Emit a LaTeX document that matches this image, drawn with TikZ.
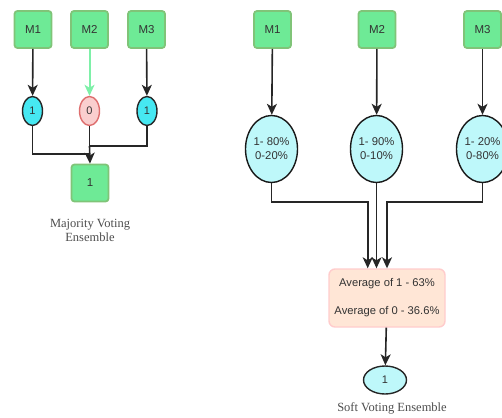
\documentclass[tikz,border=0pt]{standalone}
\usepackage{fontspec}
\setmainfont{Liberation Sans}
\newfontfamily\capfont{Liberation Serif}
\usetikzlibrary{arrows.meta,shapes.geometric}

\definecolor{boxgreen}{RGB}{110,234,150}
\definecolor{boxgreenline}{RGB}{128,196,120}
\definecolor{votecyan}{RGB}{70,232,242}
\definecolor{probcyan}{RGB}{190,248,250}
\definecolor{zeropink}{RGB}{250,206,206}
\definecolor{zeroline}{RGB}{222,110,110}
\definecolor{avgfill}{RGB}{255,230,214}
\definecolor{avgline}{RGB}{255,204,204}
\definecolor{arrowgreen}{RGB}{126,240,168}
\definecolor{txtgrey}{RGB}{51,51,51}

\tikzset{
  model/.style={draw=boxgreenline,fill=boxgreen,line width=1.8pt,rounded corners=3pt,
    minimum width=37pt,minimum height=37pt,inner sep=0pt,text=txtgrey,font=\fontsize{11.5}{13}\selectfont},
  vote/.style={ellipse,draw=black!85,fill=votecyan,line width=1.4pt,minimum width=20pt,
    minimum height=29pt,inner sep=0pt,text=txtgrey,font=\fontsize{11}{12}\selectfont},
  prob/.style={ellipse,draw=black!90,fill=probcyan,line width=1.4pt,minimum width=52pt,
    minimum height=67pt,inner sep=0pt,align=center,text=txtgrey,font=\fontsize{11.3}{14}\selectfont},
  caption/.style={text=black!70,align=center,font=\capfont\fontsize{12.5}{14}\selectfont},
  link/.style={line width=1.6pt,black!85}
}

\begin{document}
\begin{tikzpicture}[x=1pt,y=-1pt,>={Stealth[length=11pt,width=10pt,inset=3pt]}]
\useasboundingbox (0,0) rectangle (502,417);

% majority voting
\node [model] (ma1) at (33,29.5) {M1};
\node [model] (ma2) at (89.5,29.5) {M2};
\node [model] (ma3) at (146.5,29.5) {M3};
\node [vote] (va1) at (32.5,111) {1};
\node [vote,draw=zeroline,fill=zeropink] (va2) at (89.5,111) {0};
\node [vote] (va3) at (147,111) {1};
\node [model] (res) at (90,183) {1};
\node [caption] (capa) at (90,230) {Majority Voting\\Ensemble};

\draw [link,->] (ma1) -- (va1);
\draw [link,->,arrowgreen,line width=2pt] (ma2) -- (va2);
\draw [link,->] (ma3) -- (va3);
\coordinate (ja) at (89.5,146);
\coordinate (jb) at (89.5,154);
\draw [link] (va3.south) |- (ja);
\draw [link] (va2.south) -- (ja);
\draw [link] (va1.south) |- (jb);
\draw [link,->] (ja) -- (res.north);

% soft voting
\node [model] (mb1) at (272.5,29.5) {M1};
\node [model] (mb2) at (377,29.5) {M2};
\node [model] (mb3) at (482.5,29.5) {M3};
\node [prob] (pb1) at (271.5,149) {1- 80\%\\0-20\%};
\node [prob] (pb2) at (376.5,149) {1- 90\%\\0-10\%};
\node [prob] (pb3) at (482.5,149) {1- 20\%\\0-80\%};
\node [draw=avgline,fill=avgfill,line width=1.4pt,rounded corners=6pt,minimum width=116pt,
  minimum height=58pt,align=center,text=txtgrey,font=\fontsize{11.2}{28}\selectfont]
  (avg) at (387,298) {Average of 1 - 63\%\\Average of 0 - 36.6\%};
\node [vote,fill=probcyan,minimum width=43pt,minimum height=28pt] (out) at (385,380) {1};
\node [caption] (capb) at (392,408) {Soft Voting Ensemble};

\draw [link,->] (mb1) -- (pb1);
\draw [link,->] (mb2) -- (pb2);
\draw [link,->] (mb3) -- (pb3);
\coordinate (jl) at (367.7,202);
\coordinate (jr) at (387,202);
\draw [link,->] (pb1.south) |- (jl) -- (jl |- avg.north);
\draw [link,->] (pb2.south) -- (pb2.south |- avg.north);
\draw [link,->] (pb3.south) |- (jr) -- (jr |- avg.north);
\draw [link,->] (avg) -- (out);
\end{tikzpicture}
\end{document}
